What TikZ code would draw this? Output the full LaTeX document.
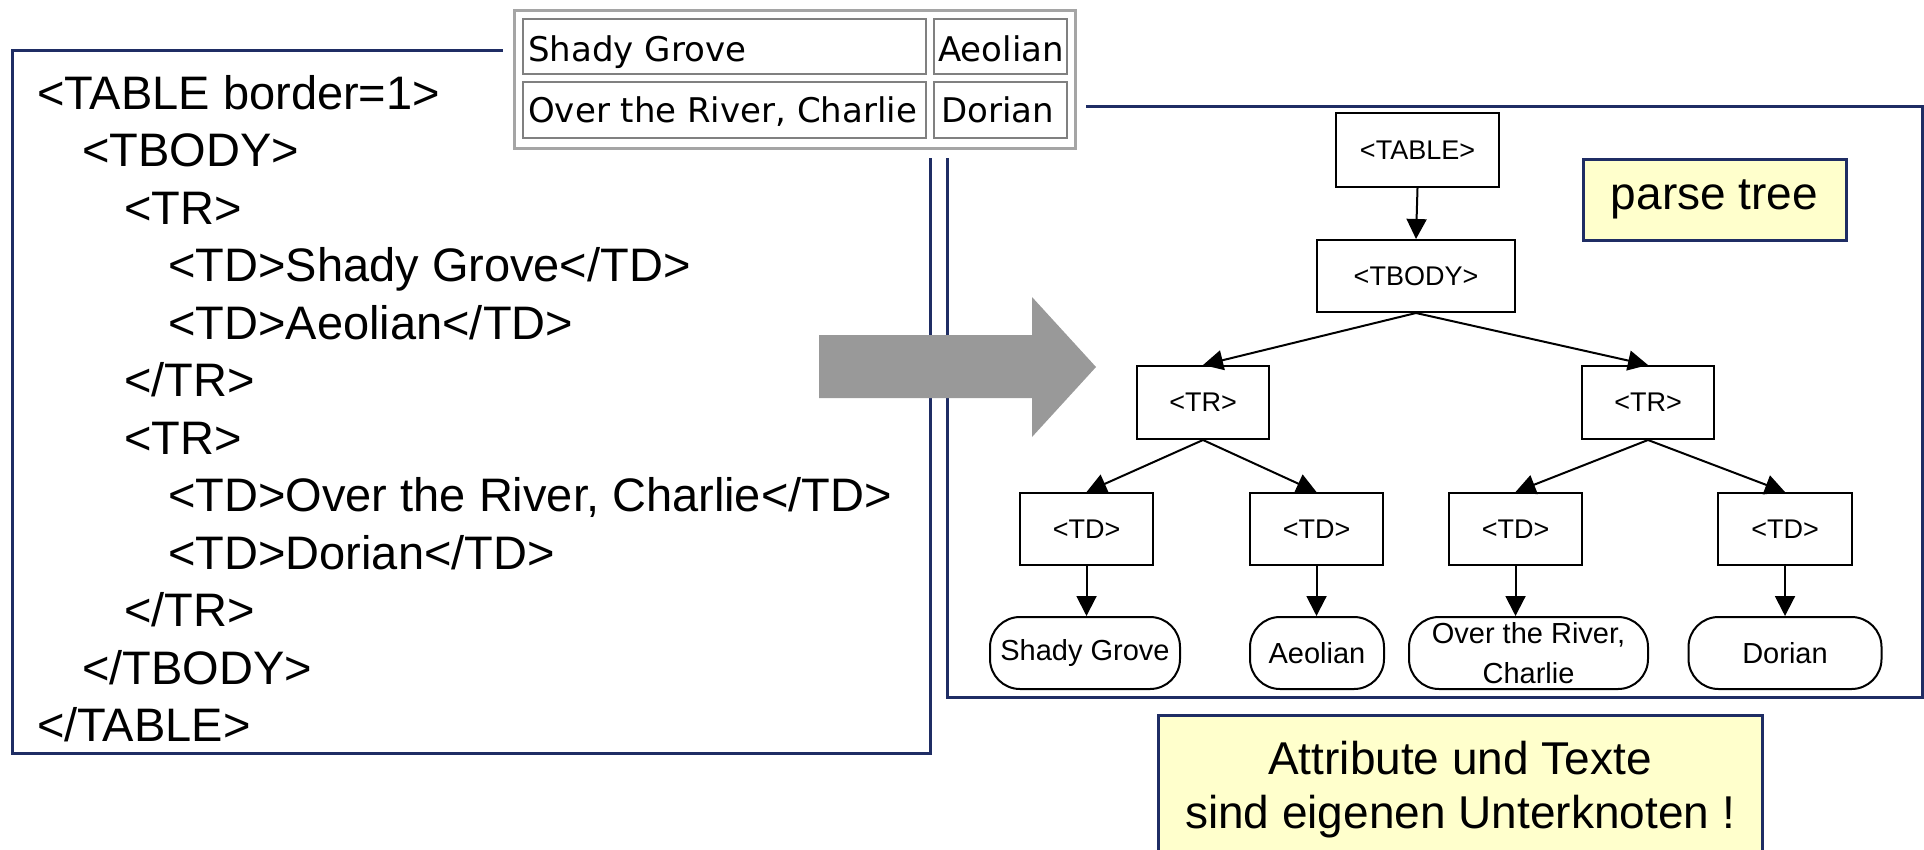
\documentclass[tikz,border=0pt]{standalone}
\usepackage{fontspec}
\setmainfont{Liberation Sans}
\newfontfamily\cellfont{DejaVu Sans}
\usetikzlibrary{arrows.meta}
\definecolor{framenavy}{RGB}{31,45,100}
\definecolor{notefill}{RGB}{255,255,204}
\definecolor{arrowgray}{RGB}{153,153,153}
\definecolor{cellline}{RGB}{128,128,128}
\definecolor{tableline}{RGB}{165,165,165}

\begin{document}
\begin{tikzpicture}[x=1pt,y=-1pt,
  navyframe/.style={draw=framenavy, line width=3pt},
  codeline/.style={anchor=base west, inner sep=0pt, font=\fontsize{47}{56}\selectfont},
  tabcell/.style={draw=cellline, line width=2pt, inner sep=0pt, anchor=north west},
  celltext/.style={anchor=base west, inner sep=0pt, font=\cellfont\fontsize{34}{40}\selectfont},
  tagbox/.style={draw, line width=2pt, inner sep=0pt, font=\fontsize{27}{30}\selectfont},
  leaf/.style={draw, line width=2pt, rounded corners=30pt, inner sep=0pt, align=center,
    minimum height=72pt, font=\fontsize{29}{40}\selectfont},
  treelink/.style={line width=2pt, -{Triangle[length=20pt,width=20pt]}},
  notebox/.style={draw=framenavy, fill=notefill, line width=3pt, inner sep=0pt, align=center,
    font=\fontsize{46}{54}\selectfont}
]
\useasboundingbox (0,0) rectangle (1924,849);

% frames around source code and parse tree
\draw[navyframe] (12,50) rectangle (930,753);
\draw[navyframe] (947,106) rectangle (1922,697);

% rendered HTML table on a white ground
\fill[white] (503,0) rectangle (1086,158);
\node[draw=tableline, line width=3pt, inner sep=0pt, anchor=north west,
      minimum width=561pt, minimum height=138pt] (htmltable) at (513,9) {};
\node[tabcell, minimum width=403pt, minimum height=55pt] (c11) at (522,18) {};
\node[tabcell, minimum width=133pt, minimum height=55pt] (c12) at (933,18) {};
\node[tabcell, minimum width=403pt, minimum height=56pt] (c21) at (522,81) {};
\node[tabcell, minimum width=133pt, minimum height=56pt] (c22) at (933,81) {};
\node[celltext] (t11) at (528,61) {Shady Grove};
\node[celltext] (t12) at (938,61) {Aeolian};
\node[celltext] (t21) at (528,122) {Over the River, Charlie};
\node[celltext] (t22) at (941,122) {Dorian};

% HTML source
\node[codeline] (code0)  at (37,109)    {<TABLE border=1>};
\node[codeline] (code1)  at (82,166.5)  {<TBODY>};
\node[codeline] (code2)  at (124,224)   {<TR>};
\node[codeline] (code3)  at (168,281.5) {<TD>Shady Grove</TD>};
\node[codeline] (code4)  at (168,339)   {<TD>Aeolian</TD>};
\node[codeline] (code5)  at (124,396.5) {</TR>};
\node[codeline] (code6)  at (124,454)   {<TR>};
\node[codeline] (code7)  at (168,511.5) {<TD>Over the River, Charlie</TD>};
\node[codeline] (code8)  at (168,569)   {<TD>Dorian</TD>};
\node[codeline] (code9)  at (124,626.5) {</TR>};
\node[codeline] (code10) at (82,684)    {</TBODY>};
\node[codeline] (code11) at (37,741)    {</TABLE>};

% big grey arrow
\fill[arrowgray] (819,335) -- (1032,335) -- (1032,297) -- (1096,367)
  -- (1032,437) -- (1032,398) -- (819,398) -- cycle;

% parse tree
\node[tagbox, minimum width=163pt, minimum height=74pt] (tTable) at (1417.5,150) {<TABLE>};
\node[tagbox, minimum width=198pt, minimum height=72pt] (tTbody) at (1416,276) {<TBODY>};
\node[tagbox, minimum width=132pt, minimum height=73pt] (tTrA) at (1203,402.5) {<TR>};
\node[tagbox, minimum width=132pt, minimum height=73pt] (tTrB) at (1648,402.5) {<TR>};
\node[tagbox, minimum width=133pt, minimum height=72pt] (tTdA) at (1086.5,529) {<TD>};
\node[tagbox, minimum width=133pt, minimum height=72pt] (tTdB) at (1316.5,529) {<TD>};
\node[tagbox, minimum width=133pt, minimum height=72pt] (tTdC) at (1515.5,529) {<TD>};
\node[tagbox, minimum width=134pt, minimum height=72pt] (tTdD) at (1785,529) {<TD>};
\node[leaf, minimum width=190pt] (lA) at (1085,653) {Shady Grove};
\node[leaf, minimum width=134pt] (lB) at (1317,653) {Aeolian};
\node[leaf, minimum width=239pt] (lC) at (1528.5,653) {Over the River,\\Charlie};
\node[leaf, minimum width=193pt] (lD) at (1785,653) {Dorian};

\draw[treelink] (tTable.south) -- (tTbody.north);
\draw[treelink] (tTbody.south) -- (tTrA.north);
\draw[treelink] (tTbody.south) -- (tTrB.north);
\draw[treelink] (tTrA.south) -- (tTdA.north);
\draw[treelink] (tTrA.south) -- (tTdB.north);
\draw[treelink] (tTrB.south) -- (tTdC.north);
\draw[treelink] (tTrB.south) -- (tTdD.north);
\draw[treelink] (tTdA.south) -- (tTdA.south |- lA.north);
\draw[treelink] (tTdB.south) -- (tTdB.south |- lB.north);
\draw[treelink] (tTdC.south) -- (tTdC.south |- lC.north);
\draw[treelink] (tTdD.south) -- (tTdD.south |- lD.north);

% notes
\node[notebox, minimum width=263pt, minimum height=81pt] (ptnote) at (1714.5,199.5) {parse tree};
\node[notebox, minimum width=604pt, minimum height=150pt] (attnote) at (1460,790)
  {Attribute und Texte\\sind eigenen Unterknoten !};
\end{tikzpicture}
\end{document}
